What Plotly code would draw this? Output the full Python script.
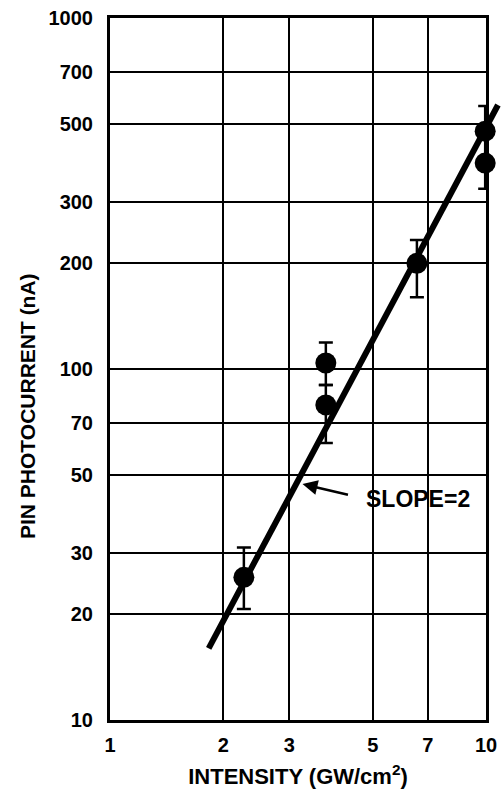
import plotly.graph_objects as go
import math

# ---- data ----
intensity = [2.27, 3.75, 3.75, 6.55, 9.95, 9.95]          # GW/cm^2
photocurrent = [25.5, 104, 79, 200, 476, 386]               # nA
err_plus = [5.5, 15, 11, 33, 85, 0]
err_minus = [4.8, 14, 17.5, 40, 90, 60]

fit_x = [1.83, 10.76]        # slope = 2 line endpoints
fit_y = [16.0, 565.0]

x_ticks = [1, 2, 3, 5, 7, 10]
y_ticks = [10, 20, 30, 50, 70, 100, 200, 300, 500, 700, 1000]

slope_label = "SLOPE=2"
arrow_tip = (3.25, 47)
label_pos = (4.75, 42.5)

FONT = "Liberation Sans, Arial, sans-serif"

# pixel geometry of the plotting rectangle
W_PLOT, H_PLOT = 376, 702
EXTRA_X, EXTRA_Y = 15, 18

fig = go.Figure()

fig.add_trace(go.Scatter(
    x=intensity, y=photocurrent, mode="markers",
    marker=dict(size=21, color="black"),
    error_y=dict(type="data", symmetric=False, array=err_plus, arrayminus=err_minus,
                 thickness=2.5, width=7, color="black"),
    cliponaxis=False, showlegend=False, xaxis="x", yaxis="y",
))

fig.add_trace(go.Scatter(
    x=fit_x, y=fit_y, mode="lines",
    line=dict(color="black", width=6),
    showlegend=False, xaxis="x2", yaxis="y2",
))

axis_common = dict(
    type="log", showgrid=True, gridcolor="black", gridwidth=2,
    showline=True, linecolor="black", linewidth=3, mirror=True,
    ticks="", tickfont=dict(family=FONT, size=20, color="black", weight="bold"),
    zeroline=False, automargin=False,
)

fig.update_layout(
    template="none",
    width=501, height=789,
    margin=dict(l=110, r=0, t=0, b=69),
    plot_bgcolor="rgba(0,0,0,0)", paper_bgcolor="white",
    xaxis=dict(**axis_common, range=[0, 1], domain=[0, W_PLOT / (W_PLOT + EXTRA_X)],
               tickvals=x_ticks, ticktext=[str(v) for v in x_ticks],
               ticklabelstandoff=5,
               title=dict(text="INTENSITY (GW/cm<sup>2</sup>)",
                          font=dict(family=FONT, size=22, color="black", weight="bold"),
                          standoff=24)),
    yaxis=dict(**axis_common, range=[1, 3], domain=[0, H_PLOT / (H_PLOT + EXTRA_Y)],
               tickvals=y_ticks, ticktext=[str(v) for v in y_ticks],
               ticklabelstandoff=10),
    xaxis2=dict(type="log", visible=False, anchor="y2", domain=[0, 1], automargin=False,
                range=[0, (W_PLOT + EXTRA_X) / W_PLOT]),
    yaxis2=dict(type="log", visible=False, anchor="x2", domain=[0, 1], automargin=False,
                range=[1, 1 + 2 * (H_PLOT + EXTRA_Y) / H_PLOT]),
    annotations=[
        dict(text="PIN PHOTOCURRENT (nA)", textangle=-90, xref="paper", yref="paper",
             x=(27 - 110) / (W_PLOT + EXTRA_X), y=1 - 406 / (H_PLOT + EXTRA_Y),
             xanchor="center", yanchor="middle",
             showarrow=False, font=dict(family=FONT, size=21, color="black", weight="bold")),
        dict(text="", xref="x", yref="y",
             x=math.log10(arrow_tip[0]), y=math.log10(arrow_tip[1]),
             showarrow=True, arrowhead=2, arrowsize=1.2, arrowwidth=2.5, arrowcolor="black",
             ax=47, ay=11),
        dict(text=slope_label, xref="x", yref="y",
             x=math.log10(label_pos[0]), y=math.log10(label_pos[1]),
             xanchor="left", yanchor="middle", showarrow=False,
             font=dict(family=FONT, size=23, color="black", weight="bold")),
    ],
)

fig.write_html("out.html", config={"displayModeBar": False},
               post_script="document.body.style.margin='0';")
